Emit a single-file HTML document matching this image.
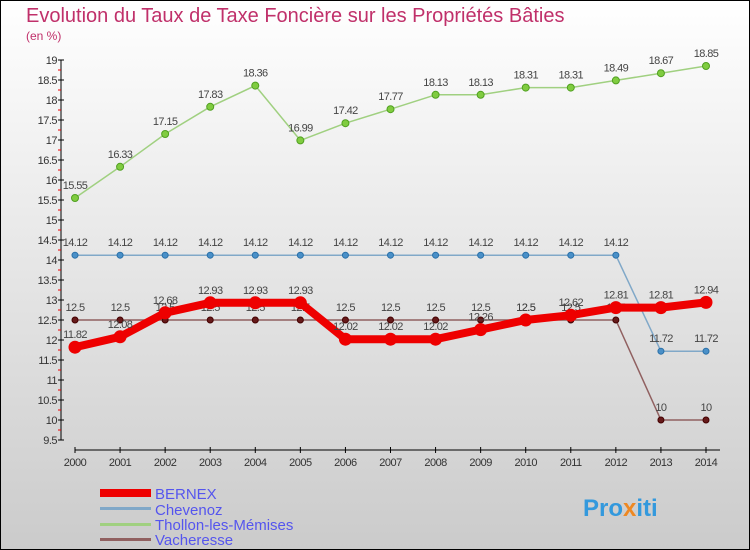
<!DOCTYPE html>
<html><head><meta charset="utf-8"><style>
body{margin:0;width:750px;height:550px;overflow:hidden}
svg{display:block;font-family:"Liberation Sans",sans-serif}
</style></head><body>
<svg width="750" height="550">
<defs><linearGradient id="bg" x1="0" y1="0" x2="0" y2="1"><stop offset="0" stop-color="#ffffff"/><stop offset="1" stop-color="#cbcbcb"/></linearGradient></defs>
<rect x="0.5" y="0.5" width="749" height="549" fill="url(#bg)" stroke="#000"/>
<text x="26" y="22" font-size="20" fill="#c0306a">Evolution du Taux de Taxe Foncière sur les Propriétés Bâties</text>
<text x="26" y="40" font-size="12" fill="#c0306a">(en %)</text>
<g id="axes"></g>
<g id="series"></g>
<g>
<rect x="100" y="489" width="51" height="8" fill="#e00"/>
<text x="155" y="499" font-size="15" fill="#5555ee">BERNEX</text>
<rect x="100" y="507" width="51" height="3" fill="#80a8c8"/>
<text x="155" y="515" font-size="15" fill="#5555ee">Chevenoz</text>
<rect x="100" y="523" width="51" height="3" fill="#a0d080"/>
<text x="155" y="530" font-size="15" fill="#5555ee">Thollon-les-Mémises</text>
<rect x="100" y="538" width="51" height="3" fill="#906060"/>
<text x="155" y="545" font-size="15" fill="#5555ee">Vacheresse</text>
</g>
<text x="583" y="516" font-size="24" font-weight="bold" fill="#3399dd">Pro<tspan fill="#ee8822">x</tspan>iti</text>
</svg>
<script>
const years=[2000,2001,2002,2003,2004,2005,2006,2007,2008,2009,2010,2011,2012,2013,2014];
const bernex=[11.82,12.08,12.68,12.93,12.93,12.93,12.02,12.02,12.02,12.26,12.5,12.62,12.81,12.81,12.94];
const chevenoz=[14.12,14.12,14.12,14.12,14.12,14.12,14.12,14.12,14.12,14.12,14.12,14.12,14.12,11.72,11.72];
const thollon=[15.55,16.33,17.15,17.83,18.36,16.99,17.42,17.77,18.13,18.13,18.31,18.31,18.49,18.67,18.85];
const vacheresse=[12.5,12.5,12.5,12.5,12.5,12.5,12.5,12.5,12.5,12.5,12.5,12.5,12.5,10,10];
const yTicks=[9.5,10,10.5,11,11.5,12,12.5,13,13.5,14,14.5,15,15.5,16,16.5,17,17.5,18,18.5,19];
const NS="http://www.w3.org/2000/svg";
const xs=i=>75+i*(706-75)/(years.length-1);
const ys=v=>60+(19-v)*40;
function mk(t,a,p){const e=document.createElementNS(NS,t);for(const k in a)e.setAttribute(k,a[k]);p.appendChild(e);return e;}
const ax=document.getElementById('axes');
const yl=mk('line',{x1:61,y1:ys(19),x2:61,y2:ys(9.5),stroke:'#000'},ax);


yTicks.forEach(v=>{
 mk('line',{x1:58,y1:ys(v),x2:64,y2:ys(v),stroke:'#000'},ax);
 mk('line',{x1:58,y1:ys(v)+10,x2:61,y2:ys(v)+10,stroke:v>9.5?'#e00':'none'},ax);
 const t=mk('text',{x:57,y:ys(v)+4,'font-size':11,'text-anchor':'end',fill:'#333','letter-spacing':'-0.5'},ax);
 t.textContent=String(v);
 
 
});
const xl=mk('line',{x1:75,y1:450,x2:720,y2:450,stroke:'#000'},ax);


years.forEach((y,i)=>{
 mk('line',{x1:xs(i),y1:447,x2:xs(i),y2:453,stroke:'#000'},ax);
 const t=mk('text',{x:xs(i),y:466,'font-size':11,'text-anchor':'middle',fill:'#333','letter-spacing':'-0.5'},ax);
 t.textContent=String(y);
 
 
});
const sg=document.getElementById('series');
function series(name,data,color,width,dot,dotFill,dotStroke){
 const g=mk('g',{},sg);
 
 
 const pl=mk('polyline',{points:data.map((v,i)=>xs(i)+','+ys(v)).join(' '),fill:'none',stroke:color,'stroke-width':width,'stroke-linejoin':'round'},g);
 
 
 data.forEach((v,i)=>{
  const c=mk('circle',{cx:xs(i),cy:ys(v),r:dot,fill:dotFill,stroke:dotStroke},g);
  
  
  const t=mk('text',{x:xs(i),y:ys(v)-9,'font-size':11,'text-anchor':'middle',fill:'#444','letter-spacing':'-0.6'},g);
  t.textContent=String(v);
  
  
 });
}
series('vacheresse',vacheresse,'#906060',1.5,3,'#661a1a','#440000');
series('chevenoz',chevenoz,'#80a8c8',1.5,3,'#4a90c8','#2a70a8');
series('thollon',thollon,'#a0d080',1.5,3.5,'#80cc40','#50a020');
series('bernex',bernex,'#ee0000',8,6,'#ee0000','#ee0000');
</script>
</body></html>
